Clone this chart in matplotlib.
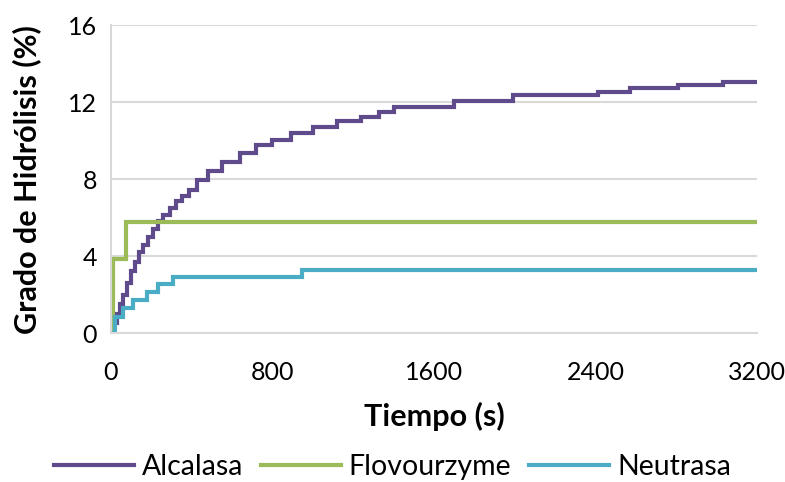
import matplotlib
matplotlib.use("Agg")
import matplotlib.pyplot as plt

# Data
alc_t = [0, 15, 30, 45, 60, 80, 100, 120, 140, 160, 185, 210, 235, 260, 290, 320, 350, 385,
         425, 480, 550, 640, 720, 800, 890, 1000, 1120, 1240, 1330, 1400, 1700, 1990, 2410,
         2570, 2810, 3030, 3200]
alc_v = [0, 0.5, 1.0, 1.5, 2.0, 2.6, 3.2, 3.7, 4.2, 4.6, 5.0, 5.4, 5.8, 6.15, 6.5, 6.85, 7.1, 7.45,
         7.95, 8.4, 8.9, 9.35, 9.75, 10.05, 10.4, 10.7, 11.0, 11.2, 11.5, 11.75, 12.05, 12.35, 12.5,
         12.75, 12.88, 13.02, 13.02]
flo_t = [0, 12, 75, 3200]
flo_v = [0, 3.85, 5.75, 5.75]
neu_t = [0, 20, 60, 110, 177, 234, 309, 944, 3200]
neu_v = [0, 0.85, 1.28, 1.7, 2.15, 2.55, 2.9, 3.3, 3.3]

series = ["Alcalasa", "Flovourzyme", "Neutrasa"]
colors = ["#5F4B8B", "#9BBB59", "#4BACC6"]
x_ticks = [0, 800, 1600, 2400, 3200]
y_ticks = [0, 4, 8, 12, 16]

plt.rcParams['font.family'] = ['Lato', 'DejaVu Sans']

fig = plt.figure(figsize=(7.85, 4.82), dpi=100)
ax = fig.add_axes([0.1414, 0.309, 0.8229, 0.639])

for t, v, name, c in zip([alc_t, flo_t, neu_t], [alc_v, flo_v, neu_v], series, colors):
    ax.plot(t, v, drawstyle='steps-post', color=c, lw=3.0, label=name, solid_joinstyle='miter')

ax.set_xlim(0, 3200)
ax.set_ylim(0, 16)
ax.set_xticks(x_ticks)
ax.set_yticks(y_ticks)
ax.tick_params(axis='y', length=0, labelsize=18, pad=10)
ax.tick_params(axis='x', length=0, labelsize=18, pad=20)
ax.grid(axis='y', color='#D9D9D9', lw=1.5)
ax.set_axisbelow(True)
for s in ['top', 'right']:
    ax.spines[s].set_visible(False)
for s in ['left', 'bottom']:
    ax.spines[s].set_color('#D9D9D9')
    ax.spines[s].set_linewidth(1.5)

ax.set_xlabel("Tiempo (s)", fontsize=22, fontweight='bold', va='center')
ax.xaxis.set_label_coords(0.5, -0.27)
ax.set_ylabel("Grado de Hidrólisis (%)", fontsize=22, fontweight='bold', va='center')
ax.yaxis.set_label_coords(-0.130, 0.5)

fig.legend(loc='center', bbox_to_anchor=(0.5, 0.031), ncol=3, frameon=False,
           fontsize=20.5, handlelength=2.8, columnspacing=0.63, handletextpad=0.28,
           borderaxespad=0, borderpad=0)

fig.savefig("out.png", dpi=100)
